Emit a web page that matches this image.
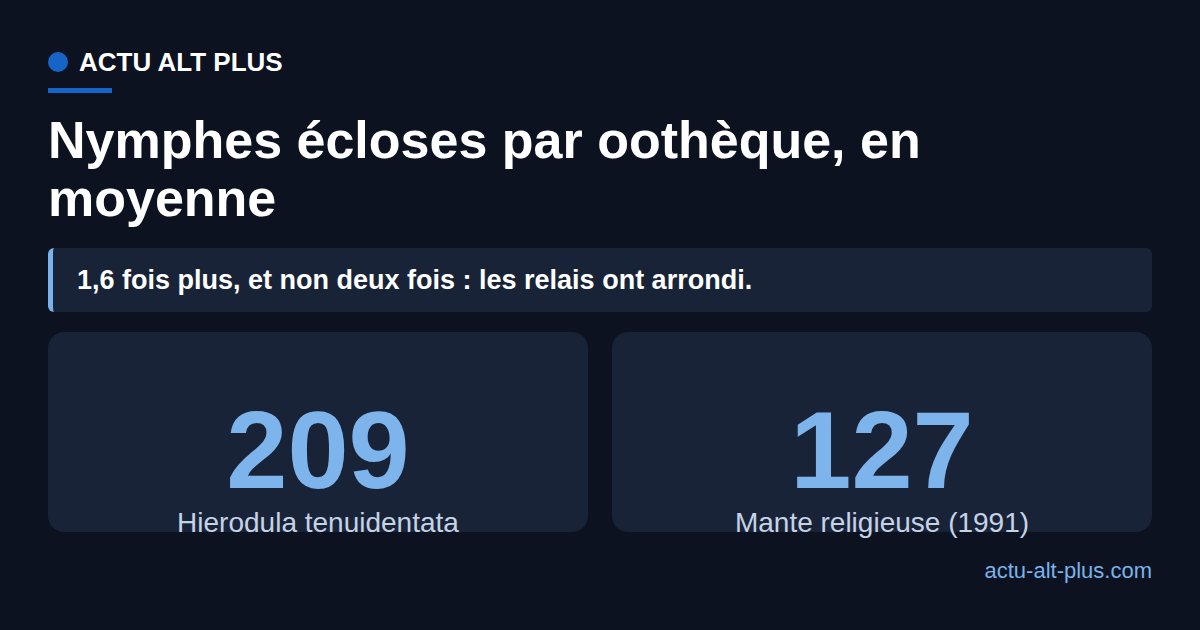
<!DOCTYPE html>
<html lang="fr">
<head>
<meta charset="utf-8">
<title>Nymphes écloses par oothèque, en moyenne</title>
<script src="https://cdn.jsdelivr.net/npm/chart.js@4.4.1/dist/chart.umd.min.js"></script>
<style>
  html, body { margin: 0; padding: 0; }
  body {
    width: 1200px; height: 630px; overflow: hidden;
    background: #0c1220;
    font-family: "Liberation Sans", Arial, sans-serif;
    color: #ffffff;
    position: relative;
  }
  .brand { position: absolute; left: 48px; top: 46px; height: 32px; display: flex; align-items: center; }
  .brand .dot { width: 20px; height: 20px; border-radius: 50%; background: #1565c8; margin-right: 11px; }
  .brand span { font-weight: bold; font-size: 26px; }
  .rule { position: absolute; left: 48px; top: 88px; width: 64px; height: 5px; background: #1565c8; }
  h1 { position: absolute; left: 48px; top: 111px; margin: 0; width: 1000px;
       font-size: 52px; line-height: 58px; font-weight: bold; }
  .note { position: absolute; left: 48px; top: 248px; width: 1104px; height: 64px; box-sizing: border-box;
          background: #192338; border-left: 5px solid #7ab3ec; border-radius: 6px;
          padding-left: 24px; display: flex; align-items: center;
          font-size: 27px; font-weight: bold; }
  .cards { position: absolute; left: 48px; top: 332px; width: 1104px; display: flex; gap: 24px; }
  .card { flex: 1; height: 200px; background: #192338; border-radius: 16px; position: relative; }
  .num { position: absolute; left: 0; right: 0; top: 63px; text-align: center;
         font-size: 110px; font-weight: bold; color: #7db4ec; line-height: 1; }
  .lbl { position: absolute; left: 0; right: 0; top: 177px; text-align: center;
         font-size: 28px; color: #c5d3e6; line-height: 1; }
  .footer { position: absolute; right: 48px; top: 558px; font-size: 22px; color: #7ab3ec; }
</style>
</head>
<body>
<div class="brand"><div class="dot"></div><span id="brand"></span></div>
<div class="rule"></div>
<h1 id="title"></h1>
<div class="note" id="note"></div>
<div class="cards" id="cards"></div>
<div class="footer" id="footer"></div>

<script>
// Valeurs.
const labels = ["Hierodula tenuidentata", "Mante religieuse (1991)"];
const values = [209, 127];

const brand = "ACTU ALT PLUS";
const title = "Nymphes écloses par oothèque, en moyenne";
const note = "1,6 fois plus, et non deux fois : les relais ont arrondi.";
const site = "actu-alt-plus.com";

function render() {
    document.getElementById("brand").textContent = brand;
    document.getElementById("title").textContent = title;
    document.getElementById("note").textContent = note;
    document.getElementById("footer").textContent = site;

    const wrap = document.getElementById("cards");
    labels.forEach((label, i) => {
        const card = document.createElement("div");
        card.className = "card";
        const num = document.createElement("div");
        num.className = "num";
        num.textContent = String(values[i]);
        const lbl = document.createElement("div");
        lbl.className = "lbl";
        lbl.textContent = label;
        card.appendChild(num);
        card.appendChild(lbl);
        wrap.appendChild(card);
    });
}

if (document.readyState === "loading") {
    document.addEventListener("DOMContentLoaded", render, { once: true });
} else {
    render();
}
</script>
</body>
</html>
